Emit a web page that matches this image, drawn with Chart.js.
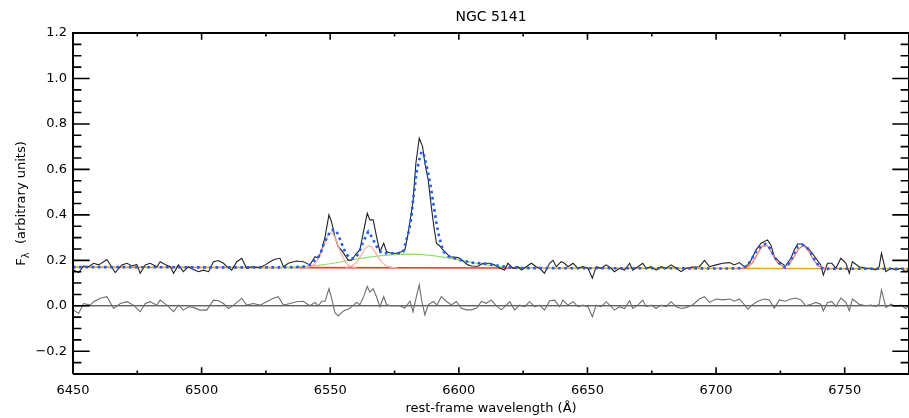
<!DOCTYPE html>
<html><head><meta charset="utf-8">
<script src="https://cdn.jsdelivr.net/npm/chart.js@4/dist/chart.umd.min.js"></script>
<style>html,body{margin:0;padding:0;background:#fff}#wrap{width:909px;height:418px;position:relative}</style>
</head><body><div id="wrap"><canvas id="c" width="909" height="418"></canvas></div>
<script>
const chartTitle = "NGC 5141";
const xAxisTitle = "rest-frame wavelength (\u00C5)";
const xTickLabels = [6450, 6500, 6550, 6600, 6650, 6700, 6750];
const yTickLabels = [-0.2, 0.0, 0.2, 0.4, 0.6, 0.8, 1.0, 1.2];

// observed spectrum
const obsWave = [
6450.2,6452.2,6454.1,6456.1,6458.0,6460.0,6463.2,6466.4,6469.0,6471.0,
6472.9,6474.8,6476.1,6478.1,6480.0,6482.6,6483.9,6485.8,6487.8,6489.1,
6491.0,6492.9,6494.9,6496.8,6498.8,6500.7,6502.7,6504.6,6506.5,6508.5,
6509.8,6511.7,6513.7,6515.6,6517.5,6519.5,6522.7,6524.7,6526.6,6528.5,
6530.5,6531.8,6533.7,6536.9,6539.5,6542.1,6544.1,6545.4,6546.7,6548.0,
6549.5,6550.5,6551.8,6553.1,6554.4,6555.7,6557.0,6558.3,6560.2,6561.5,
6562.8,6564.4,6565.4,6566.7,6568.0,6569.3,6570.8,6571.9,6573.8,6575.8,
6577.7,6579.0,6580.3,6582.2,6583.3,6584.6,6585.9,6586.8,6588.1,6589.3,
6590.3,6591.3,6592.6,6593.9,6595.2,6596.5,6598.0,6599.7,6600.9,6602.3,
6603.5,6604.9,6607.5,6609.4,6612.0,6614.0,6615.9,6617.8,6619.1,6621.1,
6623.0,6624.3,6626.2,6628.2,6630.1,6631.4,6633.3,6635.3,6636.6,6637.9,
6639.8,6641.1,6642.4,6644.4,6646.3,6648.2,6650.2,6651.9,6653.4,6655.3,
6657.3,6659.2,6660.5,6662.5,6664.4,6666.4,6667.6,6669.6,6671.5,6672.8,
6674.8,6676.7,6678.6,6680.6,6682.5,6684.5,6686.4,6688.3,6690.6,6693.5,
6695.5,6697.4,6700.0,6702.6,6705.2,6707.1,6709.0,6711.0,6712.3,6713.6,
6715.5,6717.5,6720.0,6721.3,6722.6,6724.6,6726.9,6729.1,6730.4,6731.7,
6733.6,6734.9,6736.9,6738.8,6740.7,6741.7,6743.3,6745.0,6746.6,6748.5,
6750.5,6751.8,6753.0,6755.6,6758.2,6760.2,6762.1,6763.4,6764.3,6766.0,
6768.0,6769.9,6771.8,6773.7,6775.0];
const obsFlux = [
0.157,0.146,0.175,0.172,0.187,0.180,0.204,0.146,0.180,0.187,
0.175,0.182,0.143,0.180,0.187,0.172,0.194,0.182,0.172,0.143,
0.180,0.150,0.172,0.160,0.150,0.157,0.150,0.194,0.199,0.187,
0.172,0.157,0.194,0.209,0.165,0.172,0.168,0.180,0.194,0.205,
0.209,0.172,0.187,0.197,0.194,0.180,0.216,0.209,0.245,0.304,
0.400,0.370,0.304,0.260,0.245,0.223,0.201,0.201,0.231,0.245,
0.319,0.407,0.378,0.378,0.304,0.238,0.275,0.238,0.231,0.231,
0.238,0.245,0.319,0.460,0.627,0.737,0.700,0.627,0.553,0.436,
0.348,0.275,0.263,0.245,0.231,0.216,0.214,0.212,0.205,0.190,
0.180,0.175,0.174,0.187,0.187,0.180,0.165,0.157,0.187,0.165,
0.172,0.157,0.172,0.187,0.172,0.165,0.143,0.187,0.200,0.172,
0.194,0.187,0.172,0.187,0.165,0.172,0.165,0.121,0.172,0.165,
0.180,0.165,0.150,0.165,0.157,0.187,0.157,0.172,0.187,0.165,
0.172,0.157,0.172,0.165,0.180,0.165,0.150,0.165,0.170,0.172,
0.200,0.172,0.180,0.187,0.190,0.180,0.190,0.172,0.180,0.200,
0.245,0.275,0.290,0.268,0.216,0.194,0.175,0.209,0.245,0.272,
0.272,0.260,0.238,0.209,0.180,0.135,0.187,0.187,0.165,0.209,
0.187,0.143,0.194,0.172,0.165,0.165,0.158,0.172,0.231,0.150,
0.165,0.158,0.165,0.150,0.160];

// residuals (observed - model)
const resWave = [
6450.2,6452.2,6454.1,6456.7,6458.0,6460.6,6463.2,6465.8,6468.4,6471.0,
6473.5,6476.1,6478.1,6480.0,6482.6,6483.9,6486.5,6489.1,6491.0,6492.9,
6494.9,6496.8,6499.4,6502.0,6504.6,6506.5,6508.5,6510.4,6512.4,6515.6,
6517.5,6520.1,6522.7,6525.3,6527.9,6529.8,6531.8,6534.4,6536.9,6539.5,
6542.1,6544.1,6545.4,6546.7,6548.0,6549.5,6550.5,6551.8,6553.1,6554.4,
6555.7,6557.0,6558.3,6560.2,6561.5,6562.8,6564.4,6565.4,6566.7,6568.0,
6569.3,6570.8,6571.9,6573.8,6575.8,6577.0,6579.0,6581.0,6582.2,6583.5,
6584.6,6585.5,6586.8,6588.1,6590.0,6591.5,6593.2,6595.2,6597.1,6599.0,
6601.0,6603.0,6604.9,6606.8,6608.8,6610.7,6612.6,6614.6,6616.5,6618.5,
6619.8,6621.7,6623.6,6625.6,6627.5,6629.5,6631.4,6633.3,6635.3,6637.2,
6639.2,6640.5,6642.4,6644.4,6646.3,6648.2,6650.2,6651.9,6653.4,6655.3,
6657.3,6659.2,6660.5,6662.5,6664.4,6666.4,6667.6,6669.6,6671.5,6672.8,
6674.8,6676.7,6678.6,6680.6,6682.5,6684.5,6686.4,6688.3,6691.0,6693.5,
6695.5,6697.4,6700.0,6702.6,6705.2,6707.1,6709.0,6711.0,6712.3,6714.2,
6716.2,6718.7,6720.7,6722.6,6724.6,6726.9,6729.1,6731.0,6733.0,6734.9,
6736.9,6738.8,6740.7,6741.7,6743.3,6745.0,6746.6,6748.5,6750.5,6751.8,
6753.0,6755.6,6758.2,6760.2,6762.1,6763.4,6764.3,6766.0,6768.0,6769.9,
6771.8,6773.7,6775.0];
const resFlux = [
-0.019,-0.034,0.010,0.003,0.018,0.033,0.040,-0.012,0.010,0.018,
0.003,-0.026,0.010,0.018,0.003,0.025,0.003,-0.026,0.003,-0.019,
-0.004,-0.007,-0.019,-0.019,0.025,0.022,0.010,-0.012,0.003,0.033,
0.003,0.010,0.003,0.018,0.033,0.040,0.003,0.010,0.018,0.020,
0.000,0.015,0.000,0.020,0.020,0.075,0.035,-0.030,-0.045,-0.030,
-0.020,-0.015,-0.005,0.015,0.005,0.035,0.085,0.060,0.075,0.040,
-0.005,0.040,0.005,0.000,0.000,0.000,-0.010,0.020,-0.026,0.040,
0.092,0.026,-0.040,0.004,0.019,0.004,0.040,0.019,0.004,0.019,
-0.011,-0.018,-0.018,-0.011,0.019,0.011,0.026,0.000,-0.018,0.003,
0.018,-0.019,0.003,-0.004,0.018,-0.004,0.003,-0.019,0.022,0.025,
-0.004,0.025,0.003,0.018,-0.004,0.003,-0.004,-0.048,0.003,-0.004,
0.018,-0.004,-0.019,-0.004,-0.012,0.022,-0.012,0.003,0.025,-0.004,
0.003,-0.012,0.003,-0.004,0.018,-0.004,-0.012,-0.008,0.005,0.030,
0.040,0.015,0.030,0.026,0.030,0.020,0.030,0.005,-0.015,0.005,
0.020,0.030,0.026,-0.010,0.026,0.020,0.030,0.034,0.026,0.000,
0.007,0.015,0.007,-0.022,0.015,0.018,-0.003,0.034,0.015,-0.022,
0.030,0.007,0.000,0.003,-0.003,0.007,0.070,-0.007,0.007,-0.003,
0.003,-0.012,0.000];

// total model fit (blue dotted)
const modelWave = [6450,6470,6500,6530,6536,6540,6542.1,6544.1,6546.0,6547.3,6549.2,6550.5,6552.2,6553.4,6554.4,6555.5,
6556.6,6557.9,6559.6,6561.1,6562.8,6564.8,6566.1,6567.4,6568.6,6570.3,6572.5,6574.5,6576.4,6578.4,6579.6,6580.7,6581.6,6582.2,6582.9,6583.5,
6584.6,6585.5,6586.4,6587.2,6588.0,6588.7,6589.4,6590.0,6590.6,6591.3,6592.2,6593.2,6594.1,6595.8,6597.8,6599.7,6602.3,6604.2,6608.1,6612.0,
6615.9,6619.8,6625,6650,6680,6705,6710,6711.6,6713.6,6715.5,6717.5,6719.1,6720.4,6722.0,6723.5,6725.2,6726.9,6728.4,6730.0,6731.7,
6733.6,6735.2,6736.9,6738.5,6740.1,6741.7,6745,6775];
const modelFlux = [0.170,0.170,0.169,0.169,0.170,0.173,0.180,0.200,0.223,0.267,0.311,0.333,0.333,0.304,0.275,0.245,
0.223,0.209,0.209,0.231,0.282,0.326,0.304,0.275,0.248,0.231,0.231,0.231,0.231,0.238,0.290,0.334,0.392,0.465,0.524,0.583,
0.641,0.678,0.663,0.627,0.590,0.546,0.502,0.458,0.414,0.363,0.311,0.267,0.238,0.219,0.212,0.203,0.197,0.190,0.187,0.182,
0.175,0.169,0.166,0.165,0.165,0.164,0.166,0.172,0.200,0.238,0.263,0.272,0.263,0.231,0.200,0.180,0.168,0.187,0.224,0.260,
0.268,0.260,0.231,0.200,0.172,0.162,0.163,0.163];

// continuum
const contWave = [6450, 6538, 6625, 6775];
const contFlux = [0.170, 0.168, 0.166, 0.163];

// broad H-alpha component + continuum (green)
const broadWave = [6530,6535,6540,6545,6550,6555,6560,6565,6570,6575,6580,6585,6590,6595,6600,6605,6610,6615,6620,6625,6630];
const broadFlux = [0.169,0.170,0.173,0.178,0.185,0.195,0.205,0.214,0.221,0.225,0.227,0.226,0.221,0.212,0.202,0.191,0.181,0.173,0.168,0.167,0.166];

// narrow [NII]6548 component
const n6548Wave = [6540,6542,6544,6546,6548,6549,6550,6551,6552,6554,6556,6558,6560];
const n6548Flux = [0.168,0.171,0.183,0.219,0.280,0.307,0.321,0.318,0.298,0.236,0.190,0.172,0.168];
// narrow H-alpha component
const haWave = [6556,6558,6560,6562,6563,6564,6565,6566,6567,6568,6570,6572,6574,6576];
const haFlux = [0.169,0.173,0.188,0.222,0.242,0.257,0.264,0.259,0.245,0.226,0.191,0.174,0.169,0.168];
// [SII] doublet component
const siiWave = [6708,6710,6712,6714,6716,6718,6720,6722,6724,6726,6728,6730,6732,6734,6736,6738,6740,6742,6744];
const siiFlux = [0.164,0.165,0.170,0.188,0.226,0.264,0.264,0.226,0.188,0.173,0.179,0.208,0.249,0.267,0.241,0.200,0.174,0.166,0.164];

const zeroWave = [6450, 6775];
const zeroFlux = [0, 0];

const pts = (w, f) => w.map((x, i) => ({x, y: f[i]}));

Chart.defaults.font.family = "'DejaVu Sans', sans-serif";
Chart.defaults.font.size = 13;
Chart.defaults.color = '#000';

const line = (data, color, width, order, extra) => Object.assign({
  data, borderColor: color, borderWidth: width, pointRadius: 0, tension: 0, fill: false, order
}, extra || {});

const framePlugin = {
  id: 'frame',
  afterDatasetsDraw(chart) {
    const {ctx, chartArea: a, scales: {x, y}} = chart;
    ctx.save();
    ctx.strokeStyle = '#000';
    ctx.lineWidth = 2;
    ctx.beginPath();
    ctx.moveTo(a.left, a.bottom); ctx.lineTo(a.left, a.top); ctx.lineTo(a.right, a.top);
    ctx.lineTo(a.right, a.bottom); ctx.lineTo(a.left, a.bottom);
    ctx.stroke();
    ctx.lineWidth = 1.6;
    ctx.beginPath();
    for (let v = 6450; v <= 6775; v += 25) {
      const px = x.getPixelForValue(v);
      const len = (v % 50 === 0) ? 6.8 : 3.4;
      ctx.moveTo(px, a.bottom); ctx.lineTo(px, a.bottom - len);
      ctx.moveTo(px, a.top); ctx.lineTo(px, a.top + len);
    }
    for (let i = -6; i <= 24; i++) {
      const py = y.getPixelForValue(i * 0.05);
      const len = (i % 4 === 0) ? 16.7 : 8.4;
      ctx.moveTo(a.left, py); ctx.lineTo(a.left + len, py);
      ctx.moveTo(a.right, py); ctx.lineTo(a.right - len, py);
    }
    ctx.stroke();
    ctx.restore();
  },
  afterDraw(chart) {
    const {ctx, chartArea: a} = chart;
    const cx = (a.left + a.right) / 2;
    ctx.save();
    ctx.fillStyle = '#000';
    ctx.textAlign = 'center';
    ctx.textBaseline = 'middle';
    ctx.font = "14px 'DejaVu Sans'";
    ctx.fillText(chartTitle, cx, 17);
    ctx.font = "13px 'DejaVu Sans'";
    ctx.fillText(xAxisTitle, cx, 409);
    // y axis title with subscript lambda
    ctx.translate(22, (a.top + a.bottom) / 2);
    ctx.rotate(-Math.PI / 2);
    ctx.textAlign = 'left';
    const big = "13px 'DejaVu Sans'", small = "10px 'DejaVu Sans'";
    ctx.font = big; const wF = ctx.measureText('F').width;
    ctx.font = small; const wL = ctx.measureText('\u03BB').width;
    ctx.font = big; const rest = '  (arbitrary units)'; const wR = ctx.measureText(rest).width;
    let sx = -(wF + wL + wR) / 2;
    ctx.font = big; ctx.fillText('F', sx, 0); sx += wF;
    ctx.font = small; ctx.fillText('\u03BB', sx, 4); sx += wL;
    ctx.font = big; ctx.fillText(rest, sx, 0);
    ctx.restore();
  }
};

new Chart(document.getElementById('c'), {
  type: 'line',
  data: {
    datasets: [
      line(pts(modelWave, modelFlux), '#1f5cf5', 2.6, 0, {borderDash: [2.6, 3.6]}),
      line(pts(siiWave, siiFlux), '#ff6c6c', 1.2, 1),
      line(pts(n6548Wave, n6548Flux), '#ffaaa2', 1.2, 2),
      line(pts(haWave, haFlux), '#ffaaa2', 1.2, 2),
      line(pts(obsWave, obsFlux), '#222222', 1.1, 3),
      line(pts(broadWave, broadFlux), '#8fe070', 1.2, 4),
      line(pts(contWave, contFlux), '#ff3a2a', 1.6, 5, {
        segment: { borderColor: c => (c.p0.parsed.x >= 6538 && c.p0.parsed.x < 6625) ? '#ff3a2a' : '#f2a030' }
      }),
      line(pts(resWave, resFlux), '#6e6e6e', 1.1, 6),
      line(pts(zeroWave, zeroFlux), '#222222', 1, 7)
    ]
  },
  options: {
    responsive: false,
    animation: false,
    events: [],
    layout: { padding: { top: 33, right: -1, bottom: 0, left: 0 } },
    plugins: { legend: { display: false }, tooltip: { enabled: false }, title: { display: false } },
    scales: {
      x: {
        type: 'linear', min: 6450, max: 6775,
        grid: { display: false, drawTicks: false }, border: { display: false },
        ticks: { padding: 9, maxRotation: 0, autoSkip: false, callback: v => String(v) },
        afterBuildTicks: s => { s.ticks = xTickLabels.map(v => ({value: v})); },
        afterFit: s => { s.height = 44; }
      },
      y: {
        type: 'linear', min: -0.3, max: 1.2,
        grid: { display: false, drawTicks: false }, border: { display: false },
        ticks: { padding: 6, callback: v => (v < 0 ? '\u2212' : '') + Math.abs(v).toFixed(1) },
        afterBuildTicks: s => { s.ticks = yTickLabels.map(v => ({value: v})); },
        afterFit: s => { s.width = 73; }
      }
    }
  },
  plugins: [framePlugin]
});
</script>
</body></html>
